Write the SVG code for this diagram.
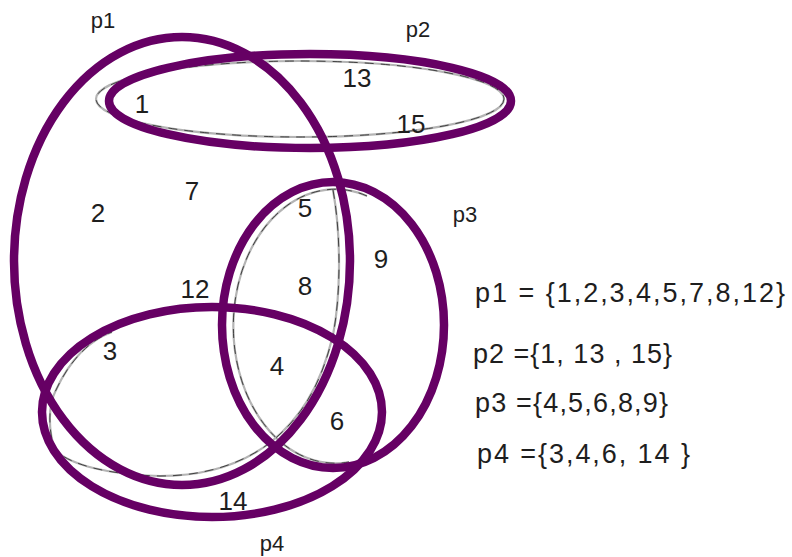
<svg xmlns="http://www.w3.org/2000/svg" width="792" height="557" viewBox="0 0 792 557">
<style>
  .set { fill: none; stroke: #660064; stroke-width: 8.5; }
  .ghost { fill: none; stroke: #b4b4b4; stroke-width: 2.2; }
  .ghostd { fill: none; stroke: #333; stroke-width: 0.9; stroke-dasharray: 9 7; }
  text { font-family: "Liberation Sans", Arial, sans-serif; fill: #1e1e1e; }
  .num { font-size: 26px; text-anchor: middle; }
  .lbl { font-size: 22px; text-anchor: middle; }
  .def { font-size: 27px; }
</style>
<rect width="792" height="557" fill="#ffffff"/>
<g id="outlines">
  <ellipse class="ghost" cx="300" cy="99" rx="204" ry="38"/>
  <ellipse class="ghostd" cx="300" cy="99" rx="204" ry="38"/>
  <path class="ghost" d="M 367,196 A 102 137 0 1 0 349,462"/>
  <path class="ghostd" d="M 367,196 A 102 137 0 1 0 349,462"/>
  <path class="ghost" d="M 333,190 C 342,240 340,300 333,335 C 320,390 298,420 271,442 C 240,466 200,476 160,476 C 110,475 70,465 55,450 C 48,430 48,405 56,390 C 70,360 90,340 112,332"/>
  <path class="ghostd" d="M 333,190 C 342,240 340,300 333,335 C 320,390 298,420 271,442 C 240,466 200,476 160,476 C 110,475 70,465 55,450 C 48,430 48,405 56,390 C 70,360 90,340 112,332"/>
</g>
<g id="p1">
  <ellipse class="set" cx="182" cy="261" rx="168" ry="224"/>
  <text class="lbl" x="103" y="28">p1</text>
</g>
<g id="p2">
  <ellipse class="set" cx="310" cy="101" rx="201" ry="47"/>
  <text class="lbl" x="418" y="37">p2</text>
</g>
<g id="p3">
  <ellipse class="set" cx="333" cy="325" rx="111" ry="143"/>
  <text class="lbl" x="465" y="222">p3</text>
</g>
<g id="p4">
  <ellipse class="set" cx="212" cy="412" rx="170" ry="105"/>
  <text class="lbl" x="272" y="551">p4</text>
</g>
<g id="elements">
  <text class="num" x="142" y="113">1</text>
  <text class="num" x="357" y="87">13</text>
  <text class="num" x="411" y="133">15</text>
  <text class="num" x="98" y="222">2</text>
  <text class="num" x="192" y="200">7</text>
  <text class="num" x="305" y="217">5</text>
  <text class="num" x="381" y="268">9</text>
  <text class="num" x="195" y="298">12</text>
  <text class="num" x="305" y="295">8</text>
  <text class="num" x="110" y="360">3</text>
  <text class="num" x="277" y="375">4</text>
  <text class="num" x="337" y="430">6</text>
  <text class="num" x="233" y="510">14</text>
</g>
<g id="definitions">
  <text class="def" x="475" y="302" textLength="310" lengthAdjust="spacing">p1 = {1,2,3,4,5,7,8,12}</text>
  <text class="def" x="473" y="363" textLength="199" lengthAdjust="spacing">p2 ={1, 13 , 15}</text>
  <text class="def" x="475" y="412" textLength="193" lengthAdjust="spacing">p3 ={4,5,6,8,9}</text>
  <text class="def" x="477" y="463" textLength="213" lengthAdjust="spacing">p4 ={3,4,6, 14 }</text>
</g>
</svg>
